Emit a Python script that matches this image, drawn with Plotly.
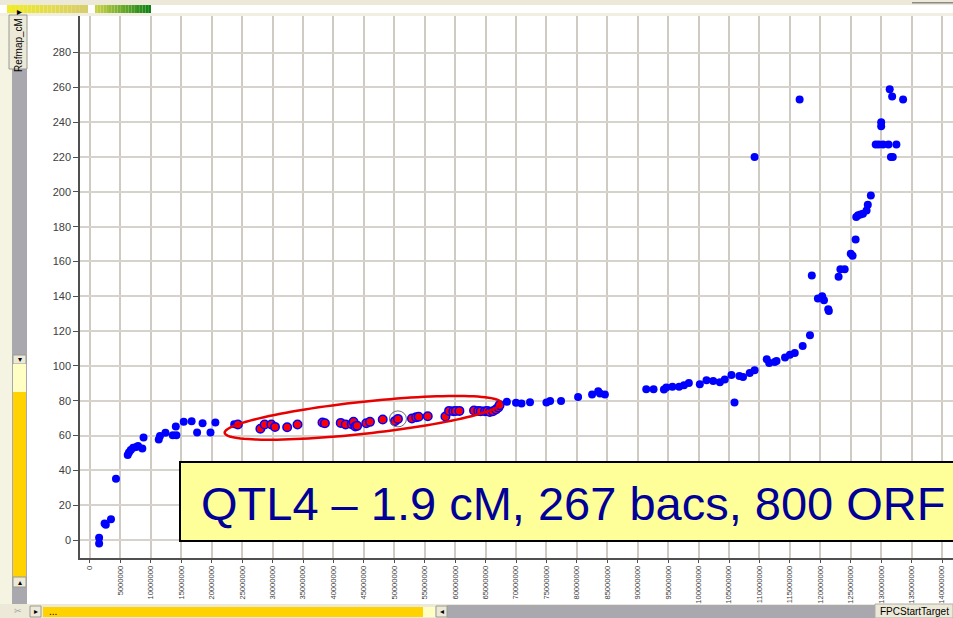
import math
import plotly.graph_objects as go

# Marker positions along the physical map (FPC start, bp) vs. genetic map (cM)
map_pos_mb = [1.5, 1.5, 2.4, 2.6, 3.45, 4.27, 6.2, 6.4, 6.7, 7.1, 7.6, 7.9, 8.6, 8.8,
              11.3, 11.5, 12.4, 13.6, 14.2, 14.1, 15.4, 16.7, 17.6, 18.5, 19.8, 20.6, 23.7,
              68.5, 70.0, 70.9, 72.3, 75.0, 75.6, 77.4, 80.2, 82.5, 83.5, 83.8, 84.6,
              91.4, 92.6, 94.3, 94.7, 95.7, 96.8, 97.6, 98.4, 100.2, 101.3, 102.4, 103.5,
              104.3, 105.4, 105.9, 106.7, 107.3, 108.4, 109.2, 109.2, 111.2, 111.6, 112.5,
              112.8, 114.2, 115.0, 115.8, 116.6, 117.1, 118.3, 118.6, 119.6, 120.3, 120.6,
              121.3, 121.4, 123.0, 123.3, 124.0, 125.0, 125.3, 125.8, 125.9, 126.2, 126.6,
              127.0, 127.6, 127.8, 128.3, 129.1, 129.6, 130.3, 131.2, 132.5, 130.0, 130.0,
              131.6, 131.9, 131.4, 131.8, 133.6]
map_cm = [1.3, -2.0, 9.5, 8.8, 11.9, 35.2, 48.8, 50.3, 51.8, 53.0, 53.5, 54.0, 52.6, 58.9,
          57.8, 59.8, 61.6, 60.2, 60.2, 65.2, 67.9, 68.3, 61.8, 67.1, 61.8, 67.5, 66.5,
          79.4, 78.8, 78.4, 79.2, 79.0, 79.9, 79.9, 82.2, 83.6, 85.5, 84.2, 83.6,
          86.6, 86.6, 86.5, 87.6, 88.0, 88.0, 88.9, 90.2, 89.5, 91.8, 91.4, 90.6,
          92.2, 94.8, 79.0, 94.3, 93.7, 96.0, 97.5, 220.0, 103.9, 101.7, 102.3,
          102.9, 104.8, 106.5, 107.5, 253.0, 111.5, 117.6, 151.9, 138.8, 140.0, 137.7,
          132.5, 131.6, 151.3, 155.5, 155.5, 164.5, 163.3, 172.7, 185.5, 186.5, 187.0,
          187.4, 189.3, 192.6, 197.9, 227.2, 227.2, 227.2, 227.2, 227.2, 240.0, 237.7,
          220.0, 220.0, 259.0, 254.7, 253.0]

# Markers inside the QTL4 interval
qtl_pos_mb = [24.3, 28.0, 28.7, 29.8, 30.4, 32.4, 34.1, 38.2, 38.6, 41.2, 42.0, 43.0,
              43.3, 43.6, 43.9, 45.4, 46.0, 48.1, 50.1, 50.6, 52.9, 53.6, 54.0, 55.5,
              58.4, 59.0, 59.7, 60.1, 60.7, 63.1, 63.8, 64.2, 64.9, 65.3, 65.7, 66.2,
              66.7, 67.1, 67.3]
qtl_cm = [66.4, 63.9, 66.4, 66.4, 65.0, 64.8, 66.4, 67.5, 67.1, 67.3, 66.4, 66.5,
          67.9, 65.2, 65.6, 67.1, 67.9, 69.2, 68.3, 69.6, 69.8, 70.6, 70.8, 71.1,
          71.0, 74.2, 74.0, 74.2, 74.2, 74.4, 74.2, 74.0, 74.0, 74.2, 73.6, 74.0,
          75.0, 76.1, 77.5]

x_ticks = list(range(0, 140000001, 5000000))
y_ticks = list(range(0, 281, 20))
qtl_label = "QTL4 \u2013 1.9 cM, 267 bacs, 800 ORF"
highlight_mb, highlight_cm = 50.6, 69.6

# Canvas / plot-area geometry (pixels)
W, H = 953, 618
L, R, T, B = 80, 953, 16, 558
X_RANGE = [-1.64e6, 141.8e6]
Y_RANGE = [-10.3, 301.0]


def px(x):
    return (x - L) / (R - L)


def py(y):
    return (B - y) / (B - T)


def data_to_pix(xv, yv):
    return (L + (xv - X_RANGE[0]) / (X_RANGE[1] - X_RANGE[0]) * (R - L),
            B - (yv - Y_RANGE[0]) / (Y_RANGE[1] - Y_RANGE[0]) * (B - T))


fig = go.Figure()
fig.add_trace(go.Scatter(
    x=[v * 1e6 for v in map_pos_mb], y=map_cm, mode="markers",
    marker=dict(color="#0000FF", size=8, line=dict(width=0)),
    showlegend=False, cliponaxis=False))
fig.add_trace(go.Scatter(
    x=[v * 1e6 for v in qtl_pos_mb], y=qtl_cm, mode="markers",
    marker=dict(color="#FF0000", size=8.5, line=dict(color="#0000FF", width=1.5)),
    showlegend=False))

shapes = []
annotations = []


def rect(x0, y0, x1, y1, fill, line=None, lw=0):
    shapes.append(dict(type="rect", xref="paper", yref="paper",
                       x0=px(x0), x1=px(x1), y0=py(y1), y1=py(y0),
                       fillcolor=fill, layer="above",
                       line=dict(color=line or fill, width=lw)))


def label(x, y, text, size=10, color="#000000", angle=0, anchor="center", family="Liberation Sans"):
    annotations.append(dict(xref="paper", yref="paper", x=px(x), y=py(y), text=text,
                            showarrow=False, textangle=angle, xanchor=anchor, yanchor="middle",
                            font=dict(family=family, size=size, color=color)))


# QTL ellipse around the interval
cx, cy = data_to_pix(44.84e6, 70.2)
a, b, ang = 139.0, 16.0, math.radians(6.2)
pts = []
for i in range(121):
    t = 2 * math.pi * i / 120
    ex, ey = a * math.cos(t), b * math.sin(t)
    X = cx + ex * math.cos(ang) + ey * math.sin(ang)
    Y = cy - ex * math.sin(ang) + ey * math.cos(ang)
    pts.append(f"{px(X):.5f},{py(Y):.5f}")
shapes.append(dict(type="path", xref="paper", yref="paper",
                   path="M" + " L".join(pts) + " Z",
                   line=dict(color="#E80000", width=2.5), layer="above"))

# Highlight ring on a single marker
shapes.append(dict(type="circle", xref="x", yref="y", xsizemode="pixel", ysizemode="pixel",
                   xanchor=highlight_mb * 1e6, yanchor=highlight_cm,
                   x0=-8.5, x1=8.5, y0=-8, y1=8,
                   line=dict(color="#707070", width=1), layer="above"))

# Window chrome: top strip with progress gradients
rect(0, 0, W, 5, "#ECE9D8")
rect(0, 5, W, 13, "#FFFFFF")
rect(0, 13, W, 16, "#F1EFE2")
n = 20
for i in range(n):
    f = i / (n - 1)
    c1 = (int(240 - 24 * f), int(236 - 30 * f), int(40 + 70 * f))
    rect(7 + 81 * i / n, 5, 7 + 81 * (i + 1) / n, 13, "rgb(%d,%d,%d)" % c1)
    c2 = (int(200 - 186 * f), int(210 - 80 * f), int(70 - 50 * f))
    rect(95 + 56 * i / n, 5, 95 + 56 * (i + 1) / n, 13, "rgb(%d,%d,%d)" % c2)
rect(912, 2, W, 3.5, "#8A8A8A")

# Left panel: axis selector button and vertical scrollbar
rect(0, 16, 12, 604, "#F5F3E2")
rect(12, 68, 27, 604, "#A9A8AF")
rect(9, 15, 27, 69, "#ECE9D8", "#9A9A90", 1)
label(18, 41, "Refmap_cM \u25be", size=10, angle=-90)
rect(13, 355, 26, 364, "#ECE9D8", "#9A9A90", 1)
label(19.5, 359.5, "\u25be", size=8)
rect(13, 364, 26, 392, "#FFFFC4")
rect(13, 392, 26, 577, "#FFD200")
rect(13, 577, 26, 587, "#ECE9D8", "#9A9A90", 1)
label(19.5, 582, "\u25b4", size=8)

# Bottom horizontal scrollbar and axis field label
rect(0, 604, W, 618, "#ECE9D8")
rect(447, 605, 875, 618, "#A9A8AF")
rect(30, 606, 41, 617, "#ECE9D8", "#9A9A90", 1)
label(35.5, 611.5, "\u25b8", size=8)
rect(43, 607, 423, 617, "#FFD200")
label(47, 611, "...", size=10, anchor="left")
rect(423, 607, 435, 617, "#FFFFC4")
rect(436, 606, 447, 617, "#ECE9D8", "#9A9A90", 1)
label(441.5, 611.5, "\u25c2", size=8)
rect(875, 604, W, 618, "#ECE9D8", "#B0AFA5", 1)
label(878, 611.5, "FPCStartTarget", size=10, anchor="left")
label(18, 611, "\u2702", size=9, color="#A0A0A0")

# QTL summary box
rect(180, 462, 965, 541, "#FFFF99", "#000000", 2)
label(199, 503, qtl_label, size=47, color="#000099", anchor="left")

tick_font = dict(family="Liberation Sans", size=11, color="#404040")
fig.update_layout(
    width=W, height=H, autosize=False,
    margin=dict(l=L, r=W - R, t=T, b=H - B, pad=0),
    paper_bgcolor="#FFFFFF", plot_bgcolor="#FFFFFF",
    shapes=shapes, annotations=annotations,
    xaxis=dict(range=X_RANGE, tickmode="array", tickvals=x_ticks,
               ticktext=[str(v) for v in x_ticks], tickangle=-90,
               tickfont=dict(family="Liberation Sans", size=7.6, color="#404040"),
               ticks="outside", ticklen=3, tickcolor="#505050",
               showgrid=True, gridcolor="#CFCBC3", gridwidth=1.5,
               showline=True, linecolor="#505050", linewidth=1.5, mirror=True,
               zeroline=False),
    yaxis=dict(range=Y_RANGE, tickmode="array", tickvals=y_ticks,
               tickfont=tick_font, ticks="outside", ticklen=5, tickcolor="#505050",
               showgrid=True, gridcolor="#D6D3CC", gridwidth=2,
               showline=True, linecolor="#505050", linewidth=1.5,
               zeroline=False),
)

fig.write_html("out.html")
